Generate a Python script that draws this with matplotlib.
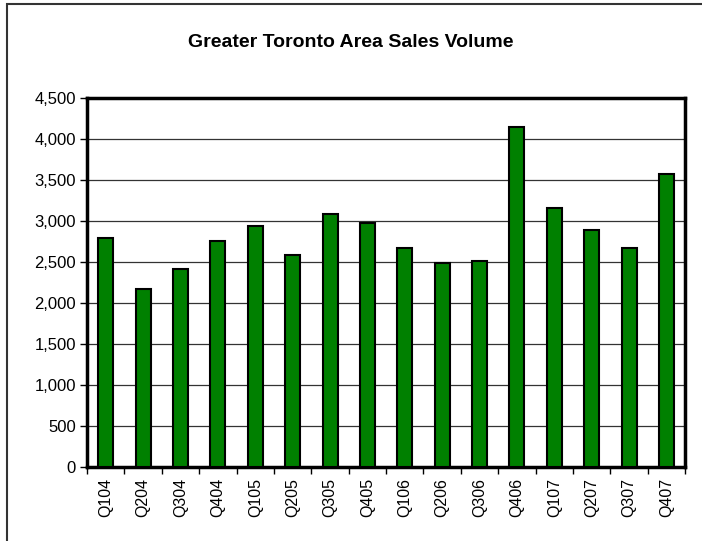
import numpy as np
import matplotlib.pyplot as plt
from matplotlib.patches import Rectangle
from matplotlib.ticker import FuncFormatter

plt.rcParams['font.family'] = ['Liberation Sans', 'DejaVu Sans']

# Datos
trimestres = ['Q104', 'Q204', 'Q304', 'Q404', 'Q105', 'Q205', 'Q305', 'Q405',
              'Q106', 'Q206', 'Q306', 'Q406', 'Q107', 'Q207', 'Q307', 'Q407']
ventas = [2790, 2170, 2410, 2750, 2940, 2590, 3080, 2970,
          2675, 2490, 2505, 4150, 3160, 2885, 2665, 3570]

fig = plt.figure(figsize=(7.02, 5.41), dpi=100)
ax = fig.add_axes([0.124, 0.137, 0.852, 0.682])

x = np.arange(len(trimestres))
ax.bar(x, ventas, width=0.4, color='#008000', edgecolor='black', linewidth=1.5, zorder=3)

ax.set_xlim(-0.5, len(trimestres) - 0.5)
ax.set_ylim(0, 4500)
ax.set_yticks(np.arange(0, 4501, 500))
ax.yaxis.set_major_formatter(FuncFormatter(lambda v, p: f'{int(v):,}'))
ax.grid(axis='y', color='#333333', linewidth=0.9, zorder=0)

# ticks en los limites de categoria, etiquetas centradas
ax.set_xticks(np.arange(-0.5, len(trimestres)), minor=False)
ax.set_xticklabels([])
ax.set_xticks(x, minor=True)
ax.set_xticklabels(trimestres, minor=True, rotation=90, fontsize=11.5)
ax.tick_params(axis='x', which='minor', length=0, pad=8)
ax.tick_params(axis='x', which='major', length=5, direction='out', width=1)
ax.tick_params(axis='y', length=5, direction='out', width=1, labelsize=12, pad=3)

for s in ax.spines.values():
    s.set_linewidth(2.5)
    s.set_color('black')

fig.text(0.5, 0.922, 'Greater Toronto Area Sales Volume', ha='center', va='center',
         fontsize=14, fontweight='bold')

# marco exterior (sale por la derecha y abajo)
fig.patches.append(Rectangle((0.01, -0.05), 1.1, 1.042, transform=fig.transFigure,
                             fill=False, edgecolor='#333333', linewidth=1.5))

fig.savefig('out.png', dpi=100)
